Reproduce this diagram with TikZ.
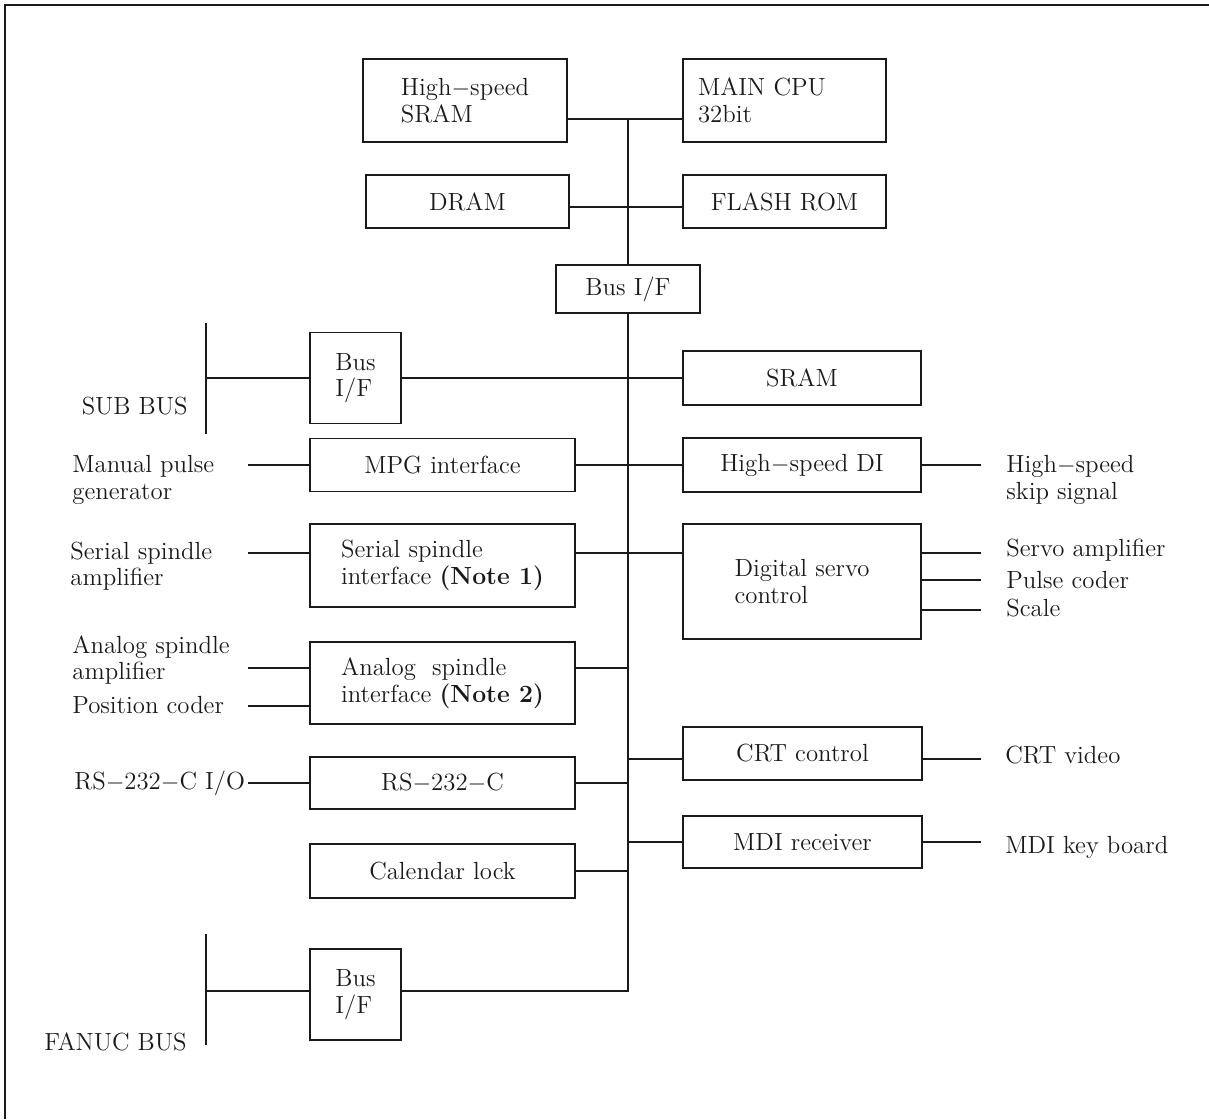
\documentclass[tikz,border=0pt]{standalone}
\usetikzlibrary{calc}

\begin{document}
\begin{tikzpicture}[x=0.5pt, y=-0.5pt]
    % Define colours
    \definecolor{lineColour}{HTML}{1A1A1A}

    % Define sizes
    \def\leftW{132.5pt}
    \def\rightW{119pt}
    \def\memW{101.5pt}
    \def\rowH{26.5pt}
    \def\tallH{41.5pt}

    % Define styles
    \tikzset{
        txt/.style={font=\fontsize{12.4}{13.3}\selectfont, text=lineColour},
        unitbox/.style={txt, draw=lineColour, line width=0.65pt, inner sep=0pt, align=left, minimum height=\rowH},
        sig/.style={txt, anchor=west, align=left, inner sep=0pt},
        wire/.style={draw=lineColour, line width=0.6pt},
        bus/.style={draw=lineColour, line width=1.4pt, line join=miter},
        busbar/.style={draw=lineColour, line width=1.1pt},
    }

    % Page size and frame
    \useasboundingbox (0,0) rectangle (1209,1119);
    \draw[draw=lineColour, line width=1.4pt] (5,1119) -- (5,5) -- (1209,5);

    % Coordinates of the buses and line ends
    \coordinate (busTop) at (628,119);
    \coordinate (busBot) at (628,991);
    \coordinate (leftEnd) at (248,0);
    \coordinate (rightEnd) at (981,0);
    \coordinate (subTop) at (206,323);
    \coordinate (subBot) at (206,434);
    \coordinate (fanucTop) at (206,934);
    \coordinate (fanucBot) at (206,1045);

    % Rows of lines that are off the box centres
    \coordinate (dramRow) at (0,207);
    \coordinate (serialRow) at (0,553);
    \coordinate (pulseRow) at (0,580);
    \coordinate (scaleRow) at (0,610);
    \coordinate (analogRow) at (0,668);
    \coordinate (posRow) at (0,706);
    \coordinate (crtRow) at (0,759);

    % Memory and CPU
    \node[unitbox, minimum width=102pt, minimum height=\tallH] (hsram) at (465,100.5) {High$-$speed\\SRAM};
    \node[unitbox, text width=86.5pt, inner xsep=7.5pt, minimum height=\tallH] (cpu) at (784.5,100.5) {MAIN CPU\\32bit};
    \node[unitbox, minimum width=\memW] (dram) at (467.5,201.5) {DRAM};
    \node[unitbox, minimum width=\memW] (flash) at (784.5,201.5) {FLASH ROM};
    \node[unitbox, minimum width=72pt, minimum height=24pt] (busif) at (628,289) {Bus I/F};

    % Left column
    \node[unitbox, minimum width=45.5pt, minimum height=45.5pt] (subif) at (355.5,378) {Bus\\I/F};
    \node[unitbox, minimum width=\leftW] (mpg) at (442.5,465) {MPG interface};
    \node[unitbox, minimum width=\leftW, minimum height=\tallH] (serial) at (442.5,565.5) {Serial spindle\\interface \textbf{(Note 1)}};
    \node[unitbox, minimum width=\leftW, minimum height=41pt] (analog) at (442.5,683) {Analog~ spindle\\interface \textbf{(Note 2)}};
    \node[unitbox, minimum width=\leftW, minimum height=26pt] (rs) at (442.5,783) {RS$-$232$-$C};
    \node[unitbox, minimum width=\leftW, minimum height=27pt] (cal) at (442.5,871) {Calendar lock};
    \node[unitbox, minimum width=45.5pt, minimum height=45.5pt] (fanucif) at (355.5,994.5) {Bus\\I/F};

    % Right column
    \node[unitbox, minimum width=\rightW, minimum height=27pt] (sram) at (802,378) {SRAM};
    \node[unitbox, minimum width=\rightW, minimum height=27pt] (hsdi) at (802,465) {High$-$speed DI};
    \node[unitbox, minimum width=\rightW, minimum height=57.5pt] (servo) at (802,581.5) {Digital servo\\control};
    \node[unitbox, minimum width=119.5pt] (crt) at (802.5,753.5) {CRT control};
    \node[unitbox, minimum width=119.5pt, minimum height=26pt] (mdi) at (802.5,842) {MDI receiver};

    % Outside signals
    \node[sig, anchor=east] (subLabel) at (188,406) {SUB BUS};
    \node[sig, anchor=east] (fanucLabel) at (187,1042) {FANUC BUS};
    \node[sig] (mpgLabel) at (72,480) {Manual pulse\\generator};
    \node[sig] (serialLabel) at (70,566) {Serial spindle\\amplifier};
    \node[sig] (analogLabel) at (72,660) {Analog spindle\\amplifier};
    \node[sig] (posLabel) at (72,705) {Position coder};
    \node[sig] (rsLabel) at (74,783) {RS$-$232$-$C I/O};
    \node[sig] (skipLabel) at (1006,480) {High$-$speed\\skip signal};
    \node[sig] (ampLabel) at (1006,550) {Servo amplifier};
    \node[sig] (coderLabel) at (1006,580) {Pulse coder};
    \node[sig] (scaleLabel) at (1006,608) {Scale};
    \node[sig] (crtLabel) at (1005,755) {CRT video};
    \node[sig] (mdiLabel) at (1005,847) {MDI key board};

    % Draw main bus
    \draw[bus] (busTop) -- (busif.north);
    \draw[bus] (busif.south) -- (busBot) -- (busBot -| fanucif.east);
    \draw[bus] (busBot -| fanucTop) -- (busBot -| fanucif.west);

    % Draw sub bus and FANUC bus bars
    \draw[busbar] (subTop) -- (subBot);
    \draw[busbar] (fanucTop) -- (fanucBot);

    % Draw memory branches
    \draw[wire] (busTop -| hsram.east) -- (busTop -| cpu.west);
    \draw[wire] (dramRow -| dram.east) -- (dramRow -| flash.west);

    % Draw branches across the bus
    \draw[wire] (subif.west -| subTop) -- (subif.west);
    \draw[wire] (subif.east) -- (sram.west);
    \draw[wire] (mpg.east) -- (hsdi.west);
    \draw[wire] (serialRow -| serial.east) -- (serialRow -| servo.west);
    \draw[wire] (analogRow -| analog.east) -- (analogRow -| busTop);
    \draw[wire] (crtRow -| busTop) -- (crtRow -| crt.west);
    \draw[wire] (rs.east) -- (rs.east -| busTop);
    \draw[wire] (mdi.west -| busTop) -- (mdi.west);
    \draw[wire] (cal.east) -- (cal.east -| busTop);

    % Draw left signal lines
    \draw[wire] (mpg.west -| leftEnd) -- (mpg.west);
    \draw[wire] (serialRow -| leftEnd) -- (serialRow -| serial.west);
    \draw[wire] (analogRow -| leftEnd) -- (analogRow -| analog.west);
    \draw[wire] (posRow -| leftEnd) -- (posRow -| analog.west);
    \draw[wire] (rs.west -| leftEnd) -- (rs.west);

    % Draw right signal lines
    \draw[wire] (hsdi.east) -- (hsdi.east -| rightEnd);
    \foreach \row in {serialRow, pulseRow, scaleRow}
        \draw[wire] (\row -| servo.east) -- (\row -| rightEnd);
    \draw[wire] (crtRow -| crt.east) -- (crtRow -| rightEnd);
    \draw[wire] (mdi.east) -- (mdi.east -| rightEnd);

\end{tikzpicture}
\end{document}
